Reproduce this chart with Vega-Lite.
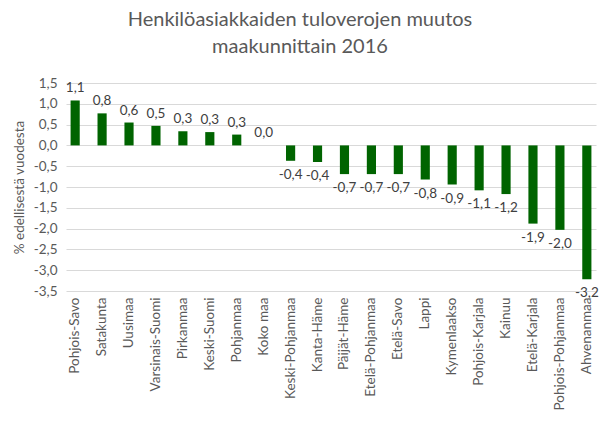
{
  "$schema": "https://vega.github.io/schema/vega-lite/v6.json",
  "autosize": {"type": "none"},
  "padding": {"left": 66, "top": 83, "right": 6, "bottom": 130},
  "width": 530,
  "height": 208,
  "background": "white",
  "config": {
    "font": "Lato",
    "view": {"stroke": null},
    "locale": {"number": {"decimal": ",", "thousands": " ", "grouping": [3], "currency": ["", " €"], "minus": "-"}}
  },
  "title": {
    "text": ["Henkilöasiakkaiden tuloverojen muutos", "maakunnittain 2016"],
    "fontSize": 20,
    "fontWeight": "normal",
    "color": "#595959",
    "lineHeight": 27,
    "anchor": "middle",
    "dx": -31,
    "offset": 19
  },
  "data": {
    "values": [
      {"maakunta": "Pohjois-Savo", "muutos": 1.08},
      {"maakunta": "Satakunta", "muutos": 0.77},
      {"maakunta": "Uusimaa", "muutos": 0.55},
      {"maakunta": "Varsinais-Suomi", "muutos": 0.47},
      {"maakunta": "Pirkanmaa", "muutos": 0.34},
      {"maakunta": "Keski-Suomi", "muutos": 0.32},
      {"maakunta": "Pohjanmaa", "muutos": 0.26},
      {"maakunta": "Koko maa", "muutos": 0.0},
      {"maakunta": "Keski-Pohjanmaa", "muutos": -0.37},
      {"maakunta": "Kanta-Häme", "muutos": -0.4},
      {"maakunta": "Päijät-Häme", "muutos": -0.69},
      {"maakunta": "Etelä-Pohjanmaa", "muutos": -0.69},
      {"maakunta": "Etelä-Savo", "muutos": -0.69},
      {"maakunta": "Lappi", "muutos": -0.82},
      {"maakunta": "Kymenlaakso", "muutos": -0.94},
      {"maakunta": "Pohjois-Karjala", "muutos": -1.08},
      {"maakunta": "Kainuu", "muutos": -1.17},
      {"maakunta": "Etelä-Karjala", "muutos": -1.88},
      {"maakunta": "Pohjois-Pohjanmaa", "muutos": -2.03},
      {"maakunta": "Ahvenanmaa", "muutos": -3.22}
    ]
  },
  "encoding": {
    "x": {
      "field": "maakunta",
      "type": "nominal",
      "sort": null,
      "scale": {"paddingInner": 0.66, "paddingOuter": 0.17},
      "axis": {
        "title": null,
        "labelAngle": -90,
        "labelFontSize": 13.5,
        "labelColor": "#595959",
        "labelPadding": 6,
        "domain": false,
        "ticks": false,
        "grid": false
      }
    },
    "y": {
      "field": "muutos",
      "type": "quantitative",
      "scale": {"domain": [-3.5, 1.5], "nice": false},
      "axis": {
        "title": "% edellisestä vuodesta",
        "titleFontSize": 13.5,
        "titleFontWeight": "normal",
        "titleColor": "#595959",
        "titlePadding": 7,
        "values": [-3.5, -3, -2.5, -2, -1.5, -1, -0.5, 0, 0.5, 1, 1.5],
        "format": ".1f",
        "labelFontSize": 13.5,
        "labelColor": "#595959",
        "labelPadding": 9,
        "domain": false,
        "ticks": false,
        "grid": true,
        "gridColor": "#d9d9d9",
        "gridWidth": 1
      }
    }
  },
  "layer": [
    {"mark": {"type": "bar", "color": "#006400"}},
    {
      "transform": [{"filter": "datum.muutos >= 0"}],
      "mark": {"type": "text", "baseline": "bottom", "dy": -5, "fontSize": 13.5, "color": "#404040"},
      "encoding": {"text": {"field": "muutos", "type": "quantitative", "format": ".1f"}}
    },
    {
      "transform": [{"filter": "datum.muutos < 0"}],
      "mark": {"type": "text", "baseline": "top", "dy": 7, "fontSize": 13.5, "color": "#404040"},
      "encoding": {"text": {"field": "muutos", "type": "quantitative", "format": ".1f"}}
    }
  ]
}
